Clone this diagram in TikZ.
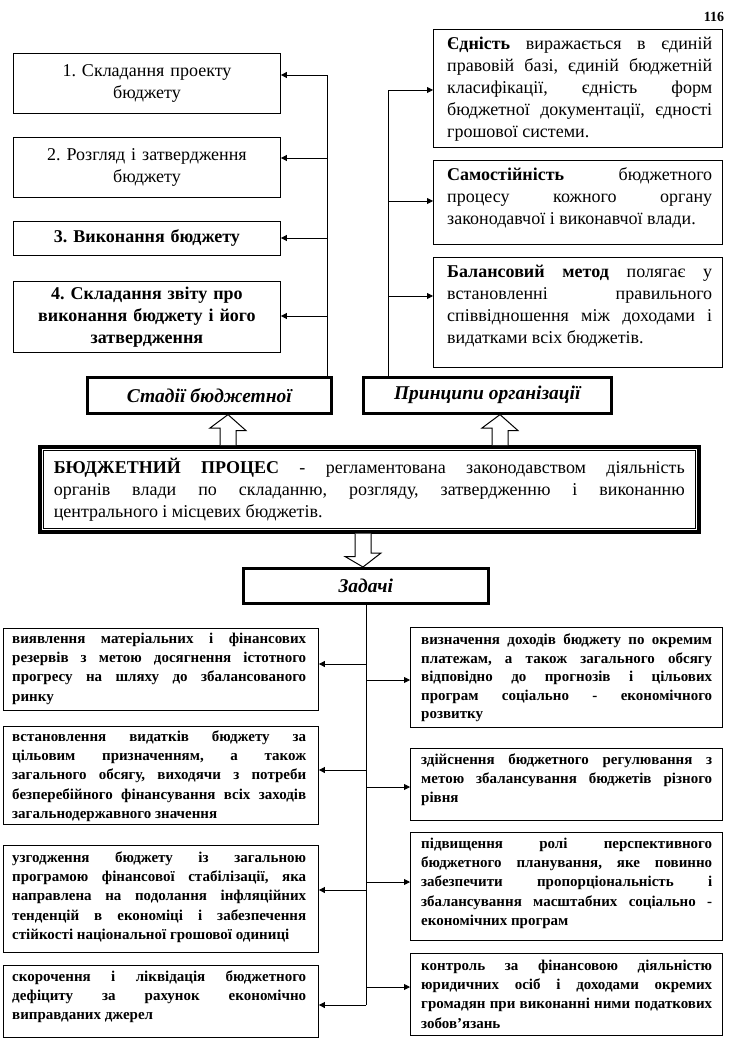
\documentclass[tikz,border=0pt]{standalone}
\usepackage{fontspec}
\setmainfont{Liberation Serif}
\usetikzlibrary{arrows.meta,calc}
\tolerance=10000 \hbadness=10000 \hyphenpenalty=10000
\frenchspacing
\begin{document}
\frenchspacing
\begin{tikzpicture}[x=1pt,y=-1pt,
  frame/.style={draw, line width=0.9pt, fill=white, inner sep=0pt, anchor=north west},
  heavy/.style={draw, line width=2.6pt, fill=white, inner sep=0pt, anchor=north west},
  tfont/.style={font=\fontsize{18}{22}\selectfont},
  hfont/.style={font=\fontsize{19.5}{22}\selectfont\bfseries\itshape},
  ttxt/.style={font=\fontsize{18}{22}\selectfont, inner sep=0pt, anchor=north west, align=justify, text width=265pt},
  btxt/.style={font=\fontsize{15}{19.3}\selectfont\bfseries, inner sep=0pt, anchor=north west, align=justify},
  arr/.style={line width=0.8pt, -{Triangle[length=6pt,width=6pt]}},
  conn/.style={line width=0.8pt},
  hollow/.style={draw, line width=1pt, fill=white, line join=miter}]
\useasboundingbox (0,0) rectangle (743,1040);

\node[font=\fontsize{14}{16}\selectfont\bfseries] (pg) at (714,17) {116};

% stages
\node[frame, tfont, minimum width=267pt, minimum height=60pt, text width=255pt, align=center] (s1) at (13,53) {1. Складання проекту\\бюджету};
\node[frame, tfont, minimum width=267pt, minimum height=60pt, text width=255pt, align=center] (s2) at (13,137) {2. Розгляд і затвердження\\бюджету};
\node[frame, tfont, minimum width=267pt, minimum height=34pt, text width=255pt, align=center] (s3) at (13,221) {\bfseries 3. Виконання бюджету};
\node[frame, tfont, minimum width=267pt, minimum height=71pt, text width=255pt, align=center] (s4) at (13,281) {\bfseries 4. Складання звіту про\\виконання бюджету і його\\затвердження};

% principles
\node[frame, minimum width=289pt, minimum height=118pt] (p1) at (433,29) {};
\node[ttxt] (p1t) at (447,33.7) {\strut\textbf{Єдність} виражається в єдиній\linebreak правовій базі, єдиній бюджетній\linebreak класифікації, єдність форм\linebreak бюджетної документації, єдності\linebreak грошової системи.};
\node[frame, minimum width=289pt, minimum height=84pt] (p2) at (433,160) {};
\node[ttxt] (p2t) at (447,164.7) {\strut\textbf{Самостійність} бюджетного\linebreak процесу кожного органу\linebreak законодавчої і виконавчої влади.};
\node[frame, minimum width=289pt, minimum height=110pt] (p3) at (433,257) {};
\node[ttxt] (p3t) at (447,261.7) {\strut\textbf{Балансовий метод} полягає у\linebreak встановленні правильного\linebreak співвідношення між доходами і\linebreak видатками всіх бюджетів.};

% headers
\node[heavy, minimum width=244pt, minimum height=36pt, hfont] (stad) at (86,376) {Стадії бюджетної};
\node[heavy, minimum width=248pt, minimum height=36pt, hfont] (princ) at (362,376) {Принципи організації};

% main
\node[heavy, line width=3.5pt, minimum width=659pt, minimum height=85pt, text width=631pt, align=justify, tfont] (main) at (38,445) {\textbf{БЮДЖЕТНИЙ ПРОЦЕС} - регламентована законодавством діяльність\linebreak органів влади по складанню, розгляду, затвердженню і виконанню\linebreak центрального і місцевих бюджетів.};
\draw[line width=1pt] ($(main.north west)+(5,5)$) rectangle ($(main.south east)+(-5,-5)$);

\node[heavy, minimum width=245pt, minimum height=35pt, hfont] (zad) at (242,567) {Задачі};

% hollow arrows
\coordinate (ax1) at (228,0);
\coordinate (ax2) at (500,0);
\coordinate (ax3) at (363,0);
\draw[hollow] ($(ax1 |- main.north)+(-8,0)$) -- ++(0,-17) -- ++(-10,0) -- (ax1 |- stad.south) -- ($(ax1 |- stad.south)+(18,16)$) -- ++(-10,0) -- ($(ax1 |- main.north)+(8,0)$);
\draw[hollow] ($(ax2 |- main.north)+(-8,0)$) -- ++(0,-17) -- ++(-10,0) -- (ax2 |- princ.south) -- ($(ax2 |- princ.south)+(18,16)$) -- ++(-10,0) -- ($(ax2 |- main.north)+(8,0)$);
\draw[hollow] ($(ax3 |- main.south)+(-8,0)$) -- ++(0,23) -- ++(-10,0) -- (ax3 |- zad.north) -- ($(ax3 |- zad.north)+(18,-14)$) -- ++(-10,0) -- ($(ax3 |- main.south)+(8,0)$);

% stage connectors
\coordinate (l1) at (327,75);
\coordinate (l2) at (327,158);
\coordinate (l3) at (327,238);
\coordinate (l4) at (327,316);
\draw[conn] (stad.north -| l1) -- (l1);
\draw[arr] (l1) -- (l1 -| s1.east);
\draw[arr] (l2) -- (l2 -| s2.east);
\draw[arr] (l3) -- (l3 -| s3.east);
\draw[arr] (l4) -- (l4 -| s4.east);

% principle connectors
\coordinate (r1) at (388,90);
\coordinate (r2) at (388,201);
\coordinate (r3) at (388,296);
\draw[conn] (princ.north -| r1) -- (r1);
\draw[arr] (r1) -- (r1 -| p1.west);
\draw[arr] (r2) -- (r2 -| p2.west);
\draw[arr] (r3) -- (r3 -| p3.west);

% tasks
\node[frame, minimum width=315pt, minimum height=82pt] (L1) at (3,628) {};
\node[btxt, text width=294pt] (L1t) at (12,629.5) {\strut виявлення матеріальних і фінансових\linebreak резервів з метою досягнення істотного\linebreak прогресу на шляху до збалансованого\linebreak ринку};
\node[frame, minimum width=315pt, minimum height=98pt] (L2) at (3,726) {};
\node[btxt, text width=294pt] (L2t) at (12,727.5) {\strut встановлення видатків бюджету за\linebreak цільовим призначенням, а також\linebreak загального обсягу, виходячи з потреби\linebreak безперебійного фінансування всіх заходів\linebreak загальнодержавного значення};
\node[frame, minimum width=315pt, minimum height=107pt] (L3) at (3,845) {};
\node[btxt, text width=294pt] (L3t) at (12,848.5) {\strut узгодження бюджету із загальною\linebreak програмою фінансової стабілізації, яка\linebreak направлена на подолання інфляційних\linebreak тенденцій в економіці і забезпечення\linebreak стійкості національної грошової одиниці};
\node[frame, minimum width=315pt, minimum height=72pt] (L4) at (3,965) {};
\node[btxt, text width=294pt] (L4t) at (12,967.5) {\strut скорочення і ліквідація бюджетного\linebreak дефіциту за рахунок економічно\linebreak виправданих джерел};

\node[frame, minimum width=312pt, minimum height=100pt] (R1) at (410,627) {};
\node[btxt, text width=291pt, font=\fontsize{15}{18.5}\selectfont\bfseries] (R1t) at (421,631.5) {\strut визначення доходів бюджету по окремим\linebreak платежам, а також загального обсягу\linebreak відповідно до прогнозів і цільових\linebreak програм соціально - економічного\linebreak розвитку};
\node[frame, minimum width=312pt, minimum height=72pt] (R2) at (410,748) {};
\node[btxt, text width=291pt] (R2t) at (421,750.5) {\strut здійснення бюджетного регулювання з\linebreak метою збалансування бюджетів різного\linebreak рівня};
\node[frame, minimum width=312pt, minimum height=108pt] (R3) at (410,832) {};
\node[btxt, text width=291pt] (R3t) at (421,834.5) {\strut підвищення ролі перспективного\linebreak бюджетного планування, яке повинно\linebreak забезпечити пропорціональність і\linebreak збалансування масштабних соціально -\linebreak економічних програм};
\node[frame, minimum width=312pt, minimum height=82pt] (R4) at (410,953) {};
\node[btxt, text width=291pt] (R4t) at (421,956.5) {\strut контроль за фінансовою діяльністю\linebreak юридичних осіб і доходами окремих\linebreak громадян при виконанні ними податкових\linebreak зобов'язань};

% task connectors
\coordinate (bend) at (366,1005);
\draw[conn] (zad.south -| bend) -- (bend);
\coordinate (t1) at (366,664);
\coordinate (t2) at (366,680);
\coordinate (t3) at (366,770);
\coordinate (t4) at (366,787);
\coordinate (t5) at (366,890);
\coordinate (t6) at (366,882);
\coordinate (t7) at (366,987);
\draw[arr] (t1) -- (t1 -| L1.east);
\draw[arr] (t2) -- (t2 -| R1.west);
\draw[arr] (t3) -- (t3 -| L2.east);
\draw[arr] (t4) -- (t4 -| R2.west);
\draw[arr] (t5) -- (t5 -| L3.east);
\draw[arr] (t6) -- (t6 -| R3.west);
\draw[arr] (bend) -- (bend -| L4.east);
\draw[arr] (t7) -- (t7 -| R4.west);
\end{tikzpicture}
\end{document}
